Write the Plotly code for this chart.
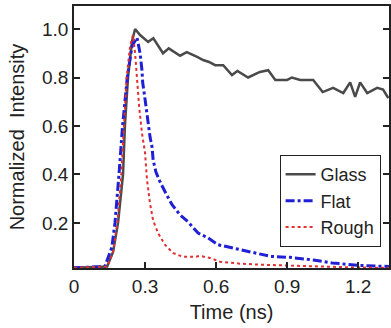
import plotly.graph_objects as go

# Glass
t_glass = [0.0, 0.05, 0.10, 0.14, 0.165, 0.186, 0.207, 0.215, 0.228, 0.245, 0.258,
           0.279, 0.313, 0.335, 0.376, 0.40, 0.448, 0.476, 0.52, 0.545, 0.57,
           0.596, 0.63, 0.667, 0.69, 0.735, 0.785, 0.82, 0.85, 0.9, 0.92,
           0.955, 1.01, 1.05, 1.094, 1.137, 1.166, 1.187, 1.208, 1.238, 1.28,
           1.305, 1.327]
y_glass = [0.015, 0.016, 0.017, 0.02, 0.08, 0.2, 0.4, 0.6, 0.8, 0.95, 1.0,
           0.975, 0.947, 0.962, 0.90, 0.92, 0.89, 0.905, 0.885, 0.872, 0.864,
           0.851, 0.851, 0.81, 0.827, 0.80, 0.823, 0.83, 0.79, 0.79, 0.80,
           0.79, 0.79, 0.74, 0.757, 0.736, 0.78, 0.72, 0.78, 0.736, 0.757,
           0.75, 0.715]

# Flat
t_flat = [0.0, 0.05, 0.10, 0.13, 0.16, 0.173, 0.19, 0.205, 0.225, 0.245, 0.266,
          0.279, 0.287, 0.29, 0.30, 0.308, 0.313, 0.321, 0.33, 0.334, 0.346,
          0.363, 0.389, 0.414, 0.448, 0.482, 0.524, 0.566, 0.608, 0.63,
          0.73, 0.83, 0.91, 1.01, 1.09, 1.2, 1.33]
y_flat = [0.015, 0.016, 0.017, 0.02, 0.1, 0.2, 0.4, 0.6, 0.8, 0.93, 0.965,
          0.90, 0.83, 0.78, 0.71, 0.65, 0.60, 0.555, 0.51, 0.46, 0.41,
          0.37, 0.32, 0.275, 0.233, 0.204, 0.158, 0.138, 0.11, 0.105,
          0.085, 0.062, 0.058, 0.047, 0.035, 0.025, 0.02]

# Rough
t_rough = [0.0, 0.05, 0.10, 0.14, 0.165, 0.183, 0.20, 0.21, 0.222, 0.237, 0.249,
           0.258, 0.266, 0.275, 0.287, 0.30, 0.308, 0.321, 0.334, 0.355, 0.384,
           0.418, 0.46, 0.511, 0.532, 0.575, 0.617, 0.7, 0.8, 0.9, 1.0, 1.1,
           1.2, 1.33]
y_rough = [0.015, 0.016, 0.017, 0.02, 0.08, 0.2, 0.4, 0.6, 0.8, 0.93, 0.975,
           0.90, 0.78, 0.68, 0.57, 0.49, 0.38, 0.28, 0.21, 0.158, 0.11,
           0.076, 0.06, 0.06, 0.064, 0.055, 0.04, 0.032, 0.027, 0.024, 0.02,
           0.018, 0.016, 0.015]

x_ticks = [0, 0.3, 0.6, 0.9, 1.2]
x_labels = ["0", "0.3", "0.6", "0.9", "1.2"]
y_ticks = [0.2, 0.4, 0.6, 0.8, 1.0]
y_labels = ["0.2", "0.4", "0.6", "0.8", "1.0"]

fig = go.Figure()
fig.add_trace(go.Scatter(x=t_glass, y=y_glass, mode="lines", name="Glass",
                         line=dict(color="#4a4a4a", width=2.5)))
fig.add_trace(go.Scatter(x=t_flat, y=y_flat, mode="lines", name="Flat",
                         line=dict(color="#1f1fd6", width=3, dash="dashdot")))
fig.add_trace(go.Scatter(x=t_rough, y=y_rough, mode="lines", name="Rough",
                         line=dict(color="#e03030", width=2, dash="dot")))

font = "Liberation Sans, Arial, sans-serif"
fig.update_layout(
    width=391, height=328,
    margin=dict(l=74, r=2, t=6, b=60),
    plot_bgcolor="white", paper_bgcolor="white",
    font=dict(family=font, size=19, color="#222"),
    legend=dict(x=0.813, y=0.431, xanchor="center", yanchor="top",
                bordercolor="#222", borderwidth=1, bgcolor="white",
                font=dict(size=18), tracegroupgap=0, itemwidth=30),
    xaxis=dict(range=[0, 1.33], tickvals=x_ticks, ticktext=x_labels,
               ticks="inside", ticklen=6, tickwidth=1.5, tickcolor="#222",
               showline=True, linecolor="#222", linewidth=1.5, mirror=True,
               showgrid=False, zeroline=False, automargin=False,
               tickfont=dict(size=19),
               title=dict(text="Time (ns)", standoff=9, font=dict(size=20))),
    yaxis=dict(range=[0.014, 1.095], tickvals=y_ticks, ticktext=y_labels,
               ticks="inside", ticklen=6, tickwidth=1.5, tickcolor="#222",
               showline=True, linecolor="#222", linewidth=1.5, mirror="ticks",
               showgrid=False, zeroline=False, automargin=False,
               tickfont=dict(size=19),
               title=dict(text="Normalized\u00a0 Intensity", standoff=12,
                          font=dict(size=20))),
)
fig.write_html("out.html", config={"displayModeBar": False},
               post_script="document.body.style.margin='0';document.body.style.padding='0';")
